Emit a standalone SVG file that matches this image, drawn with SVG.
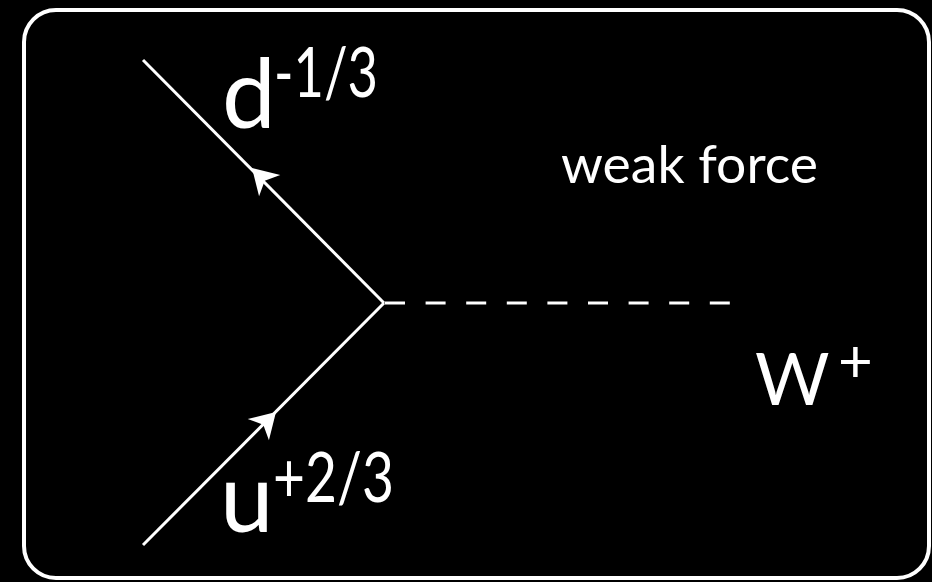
<svg xmlns="http://www.w3.org/2000/svg" width="932" height="582" viewBox="0 0 932 582">
<style>
.ln{stroke:#fff;stroke-width:3;fill:none}
.t{fill:#fff;font-family:Lato,"Open Sans","Liberation Sans",sans-serif}
</style>
<defs>
<path id="arr" d="M0,0 L-25,-15 L-18,0 L-25,15 Z" fill="#fff"/>
</defs>
<rect width="932" height="582" fill="#000"/>
<g id="frame"><rect x="24" y="10" width="905" height="568" rx="32" ry="32" fill="none" stroke="#fff" stroke-width="4"/></g>
<g id="connectors">
<line class="ln" x1="143" y1="60" x2="384" y2="303"/>
<line class="ln" x1="143" y1="545" x2="384" y2="303"/>
<line class="ln" x1="385" y1="303" x2="730" y2="303" stroke-dasharray="20 20.6"/>
<use href="#arr" transform="translate(252,168) rotate(225)"/>
<use href="#arr" transform="translate(276,412) rotate(-45)"/>
</g>
<g id="d-quark"><text class="t" x="222" y="128" font-size="96">d</text><text class="t" x="274" y="97" font-size="70" textLength="104" lengthAdjust="spacingAndGlyphs">-1/3</text></g>
<g id="u-quark"><text class="t" x="220" y="532" font-size="96">u</text><text class="t" x="273" y="502" font-size="70" textLength="121" lengthAdjust="spacingAndGlyphs">+2/3</text></g>
<g id="label"><text class="t" x="561" y="183" font-size="52" textLength="257" lengthAdjust="spacingAndGlyphs">weak force</text></g>
<g id="w-boson"><text class="t" x="755" y="405" font-size="72">W</text><text class="t" x="838" y="382" font-size="60">+</text></g>
</svg>
